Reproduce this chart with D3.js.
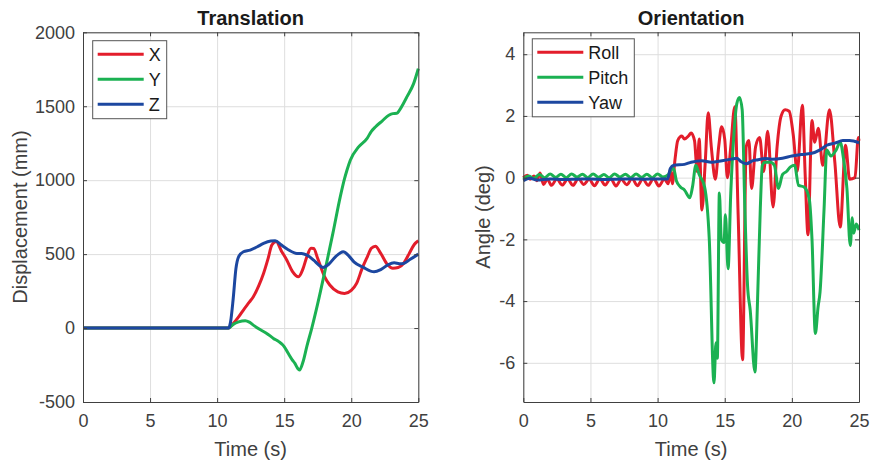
<!DOCTYPE html>
<html>
<head>
<meta charset="utf-8">
<script src="https://cdn.jsdelivr.net/npm/d3@7"></script>
<style>
  body { margin: 0; background: #fff; }
  svg { display: block; font-family: "Liberation Sans", Arial, sans-serif; }
</style>
</head>
<body>
<div id="container"></div>
<script>
// Translation / Orientation vs time

const width = 870, height = 462

// ---- data: [time (s), value] ----
const transX = [[0,0],[10.85,0],[11.2,30],[11.6,75],[11.96,122],[12.4,175],[12.7,212],[13.1,285],[13.46,369],[13.8,470],[14.08,561],[14.4,585],[14.8,520],[15.2,459],[15.6,385],[16.07,347],[16.4,400],[16.69,482],[17.0,540],[17.2,538],[17.5,470],[18.0,350],[18.4,291],[19.0,245],[19.5,234],[20.0,255],[20.4,302],[20.8,400],[21.2,482],[21.5,540],[21.8,554],[22.2,505],[22.7,430],[23.1,405],[23.5,410],[23.9,437],[24.3,500],[24.7,565],[25,590]]
const transY = [[0,0],[10.85,0],[11.2,25],[11.6,42],[12.1,50],[12.4,40],[12.7,20],[13.2,-10],[13.7,-36],[14.2,-70],[14.6,-92],[15.0,-125],[15.3,-171],[15.6,-215],[15.8,-239],[16.0,-272],[16.14,-284],[16.4,-230],[16.7,-120],[17.06,0],[17.5,165],[18.0,370],[18.63,640],[19.18,887],[19.5,1010],[19.68,1067],[19.93,1135],[20.55,1225],[21.17,1281],[21.5,1330],[21.8,1360],[22.3,1400],[22.8,1439],[23.1,1450],[23.4,1452],[23.6,1473],[23.9,1520],[24.15,1563],[24.65,1653],[25,1754]]
const transZ = [[0,0],[10.85,0],[11.0,40],[11.2,200],[11.4,400],[11.6,482],[11.96,516],[12.46,527],[13.0,550],[13.46,572],[14.0,588],[14.33,590],[14.8,561],[15.3,530],[15.95,505],[16.3,505],[16.7,493],[17.2,459],[17.6,425],[17.9,410],[18.3,430],[18.8,480],[19.4,516],[19.8,490],[20.2,448],[20.9,410],[21.7,380],[22.2,395],[22.7,425],[23.2,441],[23.6,435],[23.9,437],[24.4,465],[25,500]]

const roll = [[0,0],[0.3,0.08],[0.5,-0.05],[0.8,0.05],[1.0,-0.1],[1.25,0.15],[1.5,-0.22],[1.8,-0.05],[2.1,-0.25],[2.5,-0.04],[2.9,-0.24],[3.3,-0.05],[3.7,-0.25],[4.1,-0.03],[4.5,-0.22],[4.9,-0.05],[5.3,-0.26],[5.7,-0.04],[6.1,-0.24],[6.5,-0.02],[6.9,-0.27],[7.3,-0.05],[7.7,-0.23],[8.1,-0.03],[8.5,-0.26],[8.9,-0.04],[9.3,-0.25],[9.7,-0.03],[10.1,-0.27],[10.5,-0.05],[10.8,-0.2],[10.95,0.25],[11.1,-0.2],[11.3,0.6],[11.5,1.2],[11.8,1.35],[12.0,1.25],[12.3,1.35],[12.5,1.45],[12.75,1.2],[12.95,0.2],[13.1,1.25],[13.3,-1.05],[13.55,0.5],[13.77,2.1],[14.0,1.0],[14.3,-0.05],[14.55,1.0],[14.77,1.65],[15.0,1.25],[15.2,0.0],[15.45,1.0],[15.75,2.3],[16.0,-1.2],[16.33,-5.9],[16.6,1.0],[16.8,1.2],[17.0,-0.35],[17.3,1.0],[17.6,1.3],[17.9,0.2],[18.2,1.5],[18.6,-0.95],[18.9,1.0],[19.2,2.0],[19.5,2.2],[19.8,2.15],[20.1,1.4],[20.4,0.2],[20.78,2.35],[21.0,0.0],[21.2,-1.85],[21.5,1.85],[21.7,1.15],[21.97,1.6],[22.3,0.4],[22.8,2.2],[23.2,0.5],[23.6,-1.6],[24.0,1.05],[24.3,-0.05],[24.7,0.0],[24.95,1.3],[25,1.2]]
const pitch = [[0,-0.05],[0.4,0.05],[0.8,-0.02],[1.2,0.1],[1.6,0.0],[2.0,0.12],[2.4,0.01],[2.8,0.11],[3.2,0.0],[3.6,0.12],[4.0,0.02],[4.4,0.11],[4.8,0.0],[5.2,0.12],[5.6,0.01],[6.0,0.1],[6.4,0.0],[6.8,0.12],[7.2,0.02],[7.6,0.11],[8.0,0.0],[8.4,0.12],[8.8,0.01],[9.2,0.11],[9.6,0.0],[10.0,0.12],[10.4,0.02],[10.8,0.1],[11.0,0.25],[11.2,0.3],[11.4,-0.1],[11.7,-0.3],[12.0,-0.4],[12.4,-0.65],[12.6,-0.3],[12.85,0.4],[13.1,0.1],[13.5,-0.3],[13.85,-2.0],[14.2,-6.65],[14.35,-5.35],[14.45,-5.85],[14.6,-0.5],[14.75,-2.0],[14.95,-2.1],[15.05,-1.2],[15.25,-2.95],[15.45,-0.5],[15.7,1.5],[15.9,2.4],[16.1,2.6],[16.3,2.2],[16.5,-1.0],[16.7,-3.5],[16.9,-4.3],[17.25,-6.3],[17.45,-3.9],[17.65,-1.0],[17.8,0.4],[18.0,0.5],[18.4,0.5],[18.7,0.4],[19.0,-0.35],[19.3,0.1],[19.6,0.2],[19.9,0.35],[20.2,0.4],[20.5,-0.25],[20.9,-0.3],[21.3,-0.7],[21.5,-2.0],[21.75,-5.05],[21.95,-4.2],[22.1,-3.7],[22.4,-1.0],[22.6,0.9],[22.9,0.7],[23.3,0.9],[23.6,1.15],[23.85,0.6],[24.1,-0.35],[24.35,-2.2],[24.5,-1.3],[24.6,-1.8],[24.8,-1.5],[25,-1.7]]
const yaw = [[0,-0.1],[0.5,-0.02],[1,-0.08],[2,-0.04],[3,-0.06],[4,-0.05],[5,-0.04],[6,-0.06],[7,-0.05],[8,-0.04],[9,-0.05],[10,-0.04],[10.75,-0.04],[10.95,0.3],[11.2,0.4],[12,0.43],[12.5,0.5],[13.3,0.55],[14,0.5],[14.8,0.55],[15.5,0.6],[15.9,0.63],[16.2,0.52],[16.6,0.45],[17.1,0.55],[17.5,0.58],[18,0.62],[18.5,0.6],[19.3,0.63],[20,0.7],[20.7,0.75],[21.4,0.78],[22.1,0.9],[22.6,1.05],[23.2,1.12],[23.8,1.2],[24.3,1.2],[25,1.13]]

const timeTicks = [0, 5, 10, 15, 20, 25]
const transTicks = [-500, 0, 500, 1000, 1500, 2000]
const angleTicks = [-6, -4, -2, 0, 2, 4]

const red = "#e31d2b", green = "#1bb152", blue = "#1c47a0"
const ink = "#404040"
const plain = d => String(d)   // hyphen minus, no thousands comma

const svg = d3.select("#container").append("svg")
    .attr("width", width)
    .attr("height", height)

function drawPanel(opt) {
    const x = d3.scaleLinear().domain([0, 25]).range([opt.left, opt.right])
    const y = d3.scaleLinear().domain(opt.yDomain).range([402, 32.3])
    const g = svg.append("g")
    const w = opt.right - opt.left, h = 402 - 32.3

    // grid
    g.append("g").attr("transform", `translate(0,402)`)
        .call(d3.axisBottom(x).tickValues(timeTicks).tickSize(-h).tickFormat(""))
        .call(s => s.select(".domain").remove())
        .call(s => s.selectAll("line").attr("stroke", "#dedede"))
    g.append("g").attr("transform", `translate(${opt.left},0)`)
        .call(d3.axisLeft(y).tickValues(opt.yTicks).tickSize(-w).tickFormat(""))
        .call(s => s.select(".domain").remove())
        .call(s => s.selectAll("line").attr("stroke", "#dedede"))

    // lines
    const line = d3.line().x(d => x(d[0])).y(d => y(d[1])).curve(d3.curveMonotoneX)
    opt.series.forEach(sr => {
        g.append("path").datum(sr.data)
            .attr("d", line)
            .attr("fill", "none")
            .attr("stroke", sr.color)
            .attr("stroke-width", 3)
            .attr("stroke-linejoin", "round")
    })

    // box + ticks
    const styleAxis = s => {
        s.attr("font-family", null).attr("font-size", null)
        s.select(".domain").attr("stroke", ink)
        s.selectAll("line").attr("stroke", ink)
        s.selectAll("text").attr("fill", ink).style("font-size", "18px")
    }
    g.append("g").attr("transform", `translate(0,402)`)
        .call(d3.axisBottom(x).tickValues(timeTicks).tickFormat(plain).tickSizeInner(-4).tickSizeOuter(0).tickPadding(12))
        .call(styleAxis)
    g.append("g").attr("transform", `translate(0,32.3)`)
        .call(d3.axisTop(x).tickValues(timeTicks).tickSizeInner(-4).tickSizeOuter(0).tickFormat(""))
        .call(styleAxis)
    g.append("g").attr("transform", `translate(${opt.left},0)`)
        .call(d3.axisLeft(y).tickValues(opt.yTicks).tickFormat(plain).tickSizeInner(-4).tickSizeOuter(0).tickPadding(8))
        .call(styleAxis)
    g.append("g").attr("transform", `translate(${opt.right},0)`)
        .call(d3.axisRight(y).tickValues(opt.yTicks).tickSizeInner(-4).tickSizeOuter(0).tickFormat(""))
        .call(styleAxis)

    // title & labels
    g.append("text").text(opt.title)
        .attr("x", (opt.left + opt.right) / 2).attr("y", 25)
        .attr("text-anchor", "middle")
        .style("font-size", "20px").style("font-weight", "bold").attr("fill", "#1a1a1a")
    g.append("text").text("Time (s)")
        .attr("x", (opt.left + opt.right) / 2).attr("y", 456)
        .attr("text-anchor", "middle")
        .style("font-size", "20px").attr("fill", ink)
    g.append("text").text(opt.yLabel)
        .attr("transform", `translate(${opt.yLabelX},217) rotate(-90)`)
        .attr("text-anchor", "middle")
        .style("font-size", "20px").attr("fill", ink)

    // legend
    const lg = g.append("g").attr("transform", `translate(${opt.legend.x},${opt.legend.y})`)
    lg.append("rect")
        .attr("width", opt.legend.w).attr("height", 78)
        .attr("fill", "#fff").attr("stroke", "#555").attr("stroke-width", 1)
    opt.series.forEach((sr, i) => {
        const cy = 13.5 + i * 25
        lg.append("line")
            .attr("x1", 5).attr("x2", 51).attr("y1", cy).attr("y2", cy)
            .attr("stroke", sr.color).attr("stroke-width", 3)
        lg.append("text").text(sr.name)
            .attr("x", 56).attr("y", cy).attr("dy", "0.36em")
            .style("font-size", "18px").attr("fill", "#1a1a1a")
    })
}

drawPanel({
    left: 83, right: 418.3,
    yDomain: [-500, 2000], yTicks: transTicks,
    title: "Translation", yLabel: "Displacement (mm)", yLabelX: 27,
    legend: { x: 92.7, y: 40.7, w: 74 },
    series: [
        { name: "X", color: red, data: transX },
        { name: "Y", color: green, data: transY },
        { name: "Z", color: blue, data: transZ }
    ]
})

drawPanel({
    left: 523.3, right: 859,
    yDomain: [-7.27, 4.71], yTicks: angleTicks,
    title: "Orientation", yLabel: "Angle (deg)", yLabelX: 490,
    legend: { x: 532.3, y: 38.8, w: 102 },
    series: [
        { name: "Roll", color: red, data: roll },
        { name: "Pitch", color: green, data: pitch },
        { name: "Yaw", color: blue, data: yaw }
    ]
})
</script>
</body>
</html>
